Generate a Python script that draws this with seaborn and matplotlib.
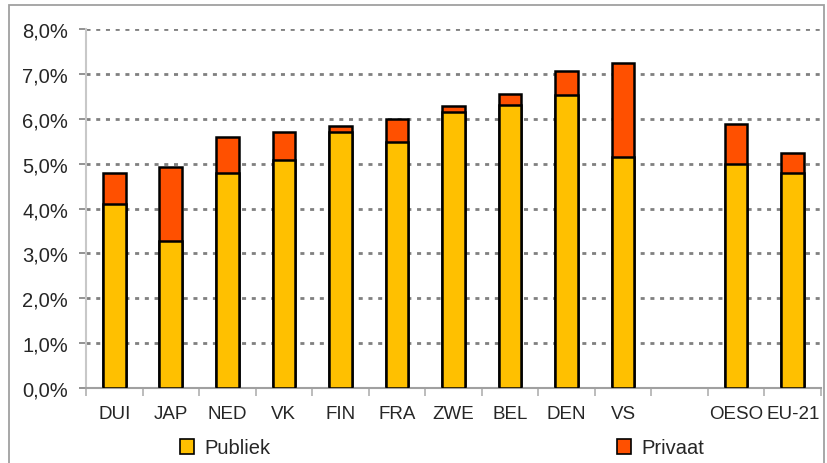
import matplotlib
matplotlib.use("Agg")
import matplotlib.pyplot as plt
from matplotlib.patches import Patch, Rectangle
from matplotlib.ticker import FuncFormatter, FixedLocator
import pandas as pd
import seaborn as sns

# ---------------------------------------------------------------------------
# Data (uitgaven onderwijs als % van bbp)
# ---------------------------------------------------------------------------
landen   = ["DUI", "JAP", "NED", "VK", "FIN", "FRA", "ZWE", "BEL", "DEN", "VS",
            "OESO", "EU-21"]
publiek  = [4.10, 3.28, 4.78, 5.09, 5.71, 5.49, 6.14, 6.31, 6.53, 5.14, 4.99, 4.78]
totaal   = [4.79, 4.92, 5.60, 5.70, 5.84, 5.99, 6.29, 6.55, 7.07, 7.25, 5.88, 5.24]
volgorde = landen[:10] + [" "] + landen[10:]   # lege kolom voor OESO / EU-21

KLEUR_PUB  = "#FFC000"
KLEUR_PRIV = "#FF5000"

df = pd.DataFrame({"land": landen, "publiek": publiek, "totaal": totaal})

sns.set_style("white")
plt.rcParams["font.family"] = ["Liberation Sans", "DejaVu Sans"]

fig = plt.figure(figsize=(8.28, 4.64), dpi=100)
ax = fig.add_axes([86 / 828, 1 - 389 / 464, (821 - 86) / 828, (389 - 30) / 464])

# gridlines first so bars sit on top
for v in range(1, 9):
    ax.axhline(v, color="#808080", lw=2.0, ls=(0, (1.45, 2.05)), zorder=0)

sns.barplot(data=df, x="land", y="totaal", order=volgorde, color=KLEUR_PRIV,
            width=0.4, edgecolor="black", linewidth=1.8, saturation=1, ax=ax,
            zorder=2)
sns.barplot(data=df, x="land", y="publiek", order=volgorde, color=KLEUR_PUB,
            width=0.4, edgecolor="black", linewidth=1.8, saturation=1, ax=ax,
            zorder=3)

ax.set_ylim(0, 8)
ax.set_xlim(-0.5, len(volgorde) - 0.5)
ax.set_xlabel("")
ax.set_ylabel("")
ax.yaxis.set_major_formatter(FuncFormatter(lambda v, _: f"{v:.1f}%".replace(".", ",")))
ax.set_yticks(range(0, 9))
ax.tick_params(axis="y", labelsize=14.5, length=5, width=1.2, color="#808080",
               left=True, pad=8)
ax.tick_params(axis="x", labelsize=13.5, length=0, pad=12)
ax.xaxis.set_minor_locator(FixedLocator([i - 0.5 for i in range(len(volgorde) + 1)]))
ax.tick_params(axis="x", which="minor", bottom=True, length=6, width=1.2,
               color="#b0b0b0")

for s in ["top", "right"]:
    ax.spines[s].set_visible(False)
ax.spines["left"].set_color("#c8c8c8")
ax.spines["left"].set_linewidth(1.5)
ax.spines["bottom"].set_color("#a0a0a0")
ax.spines["bottom"].set_linewidth(1.5)

# legend
handles = [Patch(facecolor=KLEUR_PUB, edgecolor="black", lw=1.2, label="Publiek"),
           Patch(facecolor=KLEUR_PRIV, edgecolor="black", lw=1.2, label="Privaat")]
fig.legend(handles=handles, loc="center", bbox_to_anchor=(442 / 828, 1 - 449 / 464),
           ncol=2, frameon=False, fontsize=14.5, handlelength=0.7,
           handleheight=0.7, handletextpad=0.5, columnspacing=17.2)

# outer chart border
fig.patches.append(Rectangle((9 / 828, -0.05), (824 - 9) / 828, 1.05 - 6 / 464,
                             transform=fig.transFigure, fill=False,
                             edgecolor="#a0a0a0", lw=1.3))

fig.savefig("out.png", dpi=100)
